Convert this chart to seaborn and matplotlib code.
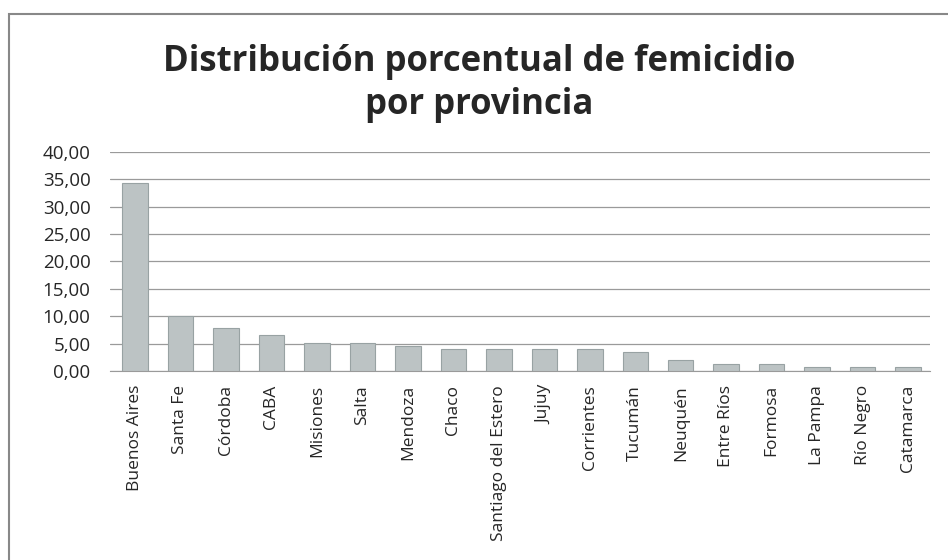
import numpy as np
import pandas as pd
import seaborn as sns
from matplotlib import pyplot as plt
from matplotlib.patches import Rectangle
from matplotlib.ticker import FuncFormatter

provincias = ['Buenos Aires', 'Santa Fe', 'Córdoba', 'CABA', 'Misiones', 'Salta',
              'Mendoza', 'Chaco', 'Santiago del Estero', 'Jujuy', 'Corrientes',
              'Tucumán', 'Neuquén', 'Entre Ríos', 'Formosa', 'La Pampa',
              'Río Negro', 'Catamarca']
porcentaje = [34.3, 10.0, 7.9, 6.6, 5.1, 5.1, 4.6, 4.0, 4.0, 4.0, 4.0, 3.5,
              2.0, 1.3, 1.3, 0.7, 0.7, 0.7]
yticks = [0, 5, 10, 15, 20, 25, 30, 35, 40]

df = pd.DataFrame({'provincia': provincias, 'pct': porcentaje})

sns.set_style('white')
plt.rcParams['font.family'] = ['Open Sans', 'DejaVu Sans']

fig = plt.figure(figsize=(9.48, 5.6), dpi=100)
ax = fig.add_axes((0.116, 0.3375, 0.865, 0.3911))

sns.barplot(data=df, x='provincia', y='pct', color='#bcc3c4', edgecolor='#98a2a3',
            linewidth=0.8, width=0.56, saturation=1, ax=ax, zorder=3)

ax.set(ylim=(0, 40), xlabel='', ylabel='')
ax.set_xlim(-0.55, len(provincias) - 0.52)
ax.set_yticks(yticks)
ax.yaxis.set_major_formatter(FuncFormatter(lambda v, p: f'{v:.2f}'.replace('.', ',')))
ax.grid(axis='y', color='#9a9a9a', lw=0.9, zorder=0)
for s in ['top', 'right', 'left']:
    ax.spines[s].set_visible(False)
ax.spines['bottom'].set_color('#9a9a9a')
ax.tick_params(axis='x', rotation=90, labelsize=12.5, length=0, pad=10)
ax.tick_params(axis='y', labelsize=13.5, length=0, pad=14)

fig.text(0.505, 0.889, 'Distribución porcentual de femicidio', ha='center', va='center',
         fontsize=25, fontweight='bold')
fig.text(0.505, 0.812, 'por provincia', ha='center', va='center',
         fontsize=25, fontweight='bold')

fig.patches.append(Rectangle((0.010, -0.01), 1.0, 0.985, transform=fig.transFigure,
                             fill=False, edgecolor='#888888', lw=1.5))

fig.savefig('out.png', dpi=100)
